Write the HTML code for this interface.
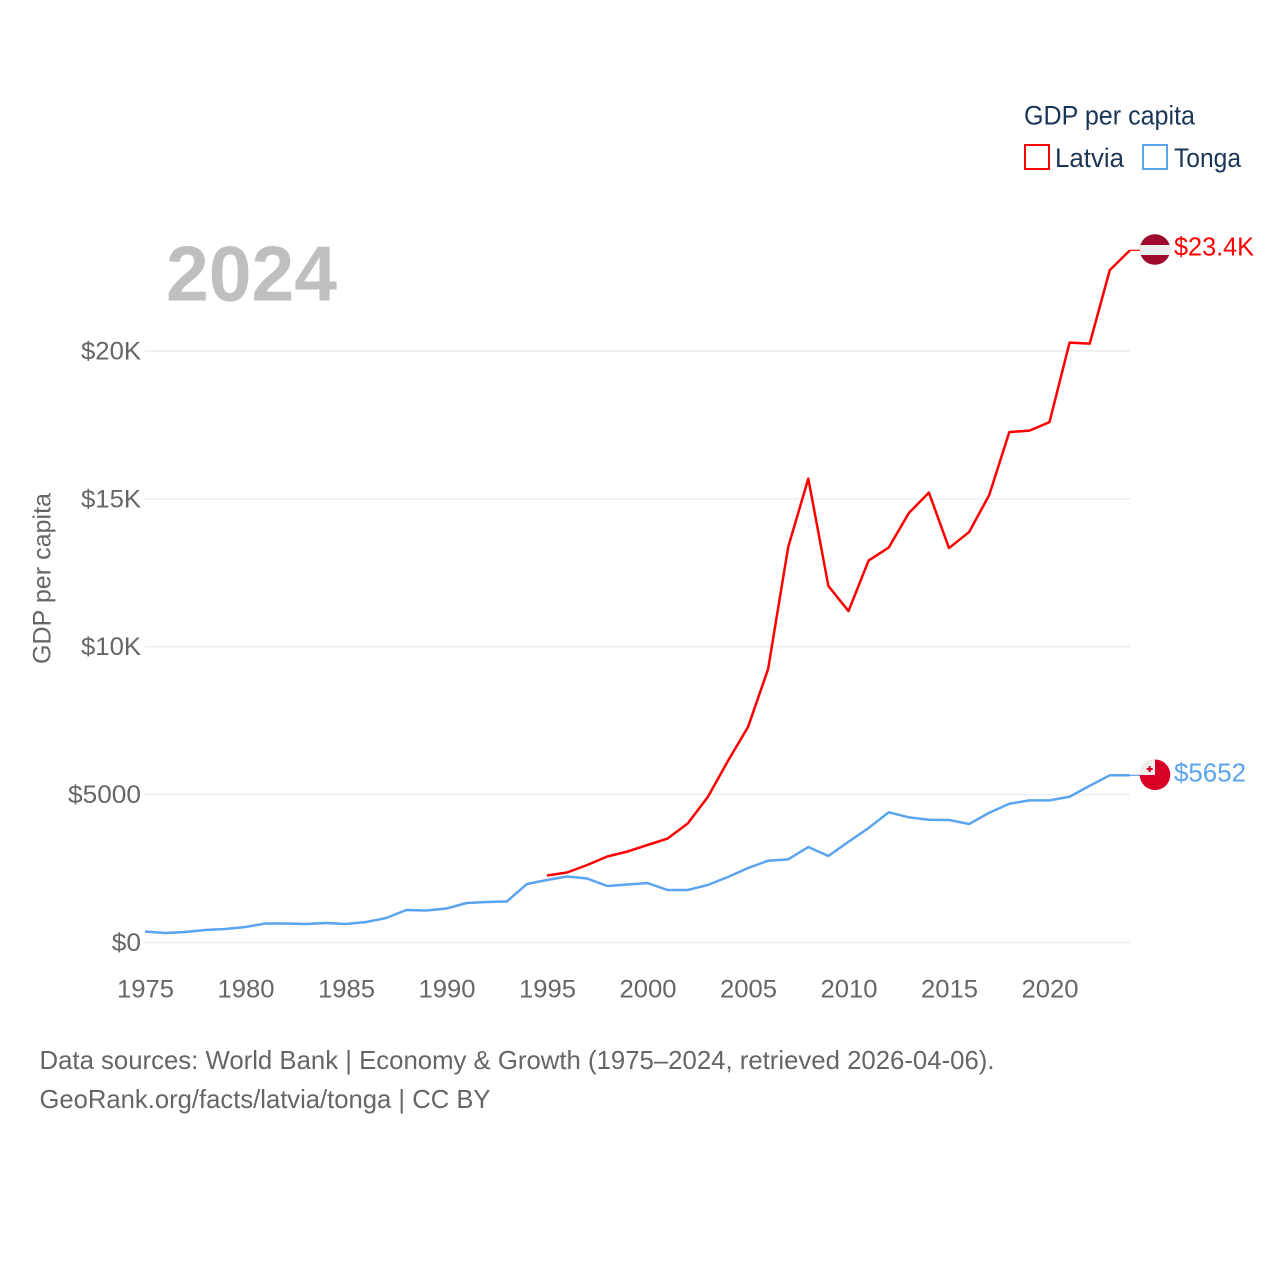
<!DOCTYPE html>
<html lang="en">
<head>
<meta charset="utf-8">
<title>GDP per capita: Latvia and Tonga</title>
<style>
html,body{margin:0;padding:0;background:#fff;width:1280px;height:1280px;overflow:hidden}
svg{display:block}
text{font-family:"Liberation Sans",sans-serif}
.tick{font-size:25px;fill:#666}
.foot{font-size:26px;fill:#666}
.leg{font-size:27px;fill:#1b3556}
</style>
</head>
<body>
<svg id="chart" xmlns="http://www.w3.org/2000/svg" width="1280" height="1280" viewBox="0 0 1280 1280">
  <defs>
    <clipPath id="clip-lv"><circle cx="1155" cy="249.5" r="15.3"/></clipPath>
    <clipPath id="clip-to"><circle cx="1155" cy="774.8" r="15.3"/></clipPath>
  </defs>
  <rect width="1280" height="1280" fill="#fff"/>
  <g id="grid"></g>
  <g id="yticks"></g>
  <g id="xticks"></g>
  <text x="166" y="300.5" font-size="78" font-weight="700" fill="#bfbfbf" textLength="171" lengthAdjust="spacingAndGlyphs">2024</text>
  <text class="tick" transform="translate(50.5,664) rotate(-90)" textLength="171" lengthAdjust="spacingAndGlyphs">GDP per capita</text>
  <g id="series"></g>

  <g clip-path="url(#clip-lv)">
    <rect x="1139" y="233" width="32" height="33" fill="#9e0a2b"/>
    <rect x="1139" y="245" width="32" height="10" fill="#eeeeee"/>
  </g>
  <g clip-path="url(#clip-to)">
    <rect x="1139" y="759" width="32" height="33" fill="#d80027"/>
    <rect x="1139" y="759" width="16" height="16" fill="#eeeeee"/>
    <rect x="1148.7" y="766" width="2" height="6" fill="#d80027"/>
    <rect x="1146.7" y="768" width="6" height="2" fill="#d80027"/>
  </g>
  <text x="1174" y="255.5" font-size="26" fill="#ff0000" textLength="80" lengthAdjust="spacingAndGlyphs">$23.4K</text>
  <text x="1174" y="781.5" font-size="26" fill="#5ba4ee" textLength="72" lengthAdjust="spacingAndGlyphs">$5652</text>

  <g>
    <text class="leg" x="1024" y="124.5" textLength="171" lengthAdjust="spacingAndGlyphs">GDP per capita</text>
    <rect x="1025" y="145" width="24" height="24" fill="#fff" stroke="#ff0000" stroke-width="2"/>
    <text class="leg" x="1055" y="167" textLength="69" lengthAdjust="spacingAndGlyphs">Latvia</text>
    <rect x="1143" y="145" width="24" height="24" fill="#fff" stroke="#5ba4ee" stroke-width="2"/>
    <text class="leg" x="1174" y="167" textLength="67" lengthAdjust="spacingAndGlyphs">Tonga</text>
  </g>

  <text class="foot" x="39.5" y="1069" textLength="955" lengthAdjust="spacingAndGlyphs">Data sources: World Bank | Economy &amp; Growth (1975–2024, retrieved 2026-04-06).</text>
  <text class="foot" x="39.5" y="1108" textLength="451" lengthAdjust="spacingAndGlyphs">GeoRank.org/facts/latvia/tonga | CC BY</text>
</svg>
<script>
const tongaStartYear = 1975;
const latviaStartYear = 1995;
const tongaValues = [372,321,355,423,456,524,642,642,625,659,625,693,828,1099,1082,1149,1335,1369,1386,1977,2113,2231,2163,1910,1960,2011,1775,1775,1944,2214,2518,2765,2812,3228,2924,3407,3870,4401,4232,4151,4141,4005,4387,4691,4806,4806,4928,5300,5652,5652];
const latviaValues = [2265,2366,2620,2907,3076,3296,3515,4022,4918,6135,7284,9244,13368,15683,12050,11205,12912,13351,14517,15210,13334,13875,15126,17255,17306,17593,20280,20246,22731,23400];
const yTickValues = [0,5000,10000,15000,20000];
const yTickLabels = ["$0","$5000","$10K","$15K","$20K"];
const xTickYears = [1975,1980,1985,1990,1995,2000,2005,2010,2015,2020];

const NS = "http://www.w3.org/2000/svg";
const xPos = function (year) { return 145 + (year - 1975) * 20.1; };
const yPos = function (value) { return 942.5 - value * 0.02958; };
const widthFor = function (label) { return label.length * (label.indexOf("K") >= 0 ? 15 : 14.6); };

const grid = document.getElementById("grid");
const yticks = document.getElementById("yticks");
const xticks = document.getElementById("xticks");
const series = document.getElementById("series");

yTickValues.forEach(function (v, i) {
  const line = document.createElementNS(NS, "line");
  line.setAttribute("x1", 145);
  line.setAttribute("x2", 1130);
  line.setAttribute("y1", yPos(v));
  line.setAttribute("y2", yPos(v));
  line.setAttribute("stroke", "#eeeeee");
  line.setAttribute("stroke-width", 1.5);
  
  
  grid.appendChild(line);

  const t = document.createElementNS(NS, "text");
  t.setAttribute("class", "tick");
  t.setAttribute("x", 141);
  t.setAttribute("y", yPos(v) + 8.5);
  t.setAttribute("text-anchor", "end");
  t.setAttribute("textLength", widthFor(yTickLabels[i]));
  t.setAttribute("lengthAdjust", "spacingAndGlyphs");
  t.textContent = yTickLabels[i];
  
  
  yticks.appendChild(t);
});

xTickYears.forEach(function (year) {
  const t = document.createElementNS(NS, "text");
  t.setAttribute("class", "tick");
  t.setAttribute("x", xPos(year) + 0.5);
  t.setAttribute("y", 997.5);
  t.setAttribute("text-anchor", "middle");
  t.setAttribute("textLength", 57);
  t.setAttribute("lengthAdjust", "spacingAndGlyphs");
  t.textContent = String(year);
  
  
  xticks.appendChild(t);
});

function pathFor(values, startYear) {
  const pts = values.map(function (v, i) {
    return xPos(startYear + i).toFixed(2) + "," + yPos(v).toFixed(2);
  });
  return "M" + pts.join("L");
}

function connectorFor(values, startYear) {
  const last = values[values.length - 1];
  const lastX = xPos(startYear + values.length - 1).toFixed(2);
  return "M" + lastX + "," + yPos(last).toFixed(2) + "L1140," + yPos(last).toFixed(2);
}

const tongaLine = document.createElementNS(NS, "path");
tongaLine.setAttribute("d", pathFor(tongaValues, tongaStartYear));
tongaLine.setAttribute("fill", "none");
tongaLine.setAttribute("stroke", "#5ba4ee");
tongaLine.setAttribute("stroke-width", 2.5);
tongaLine.setAttribute("stroke-linejoin", "round");


series.appendChild(tongaLine);

const tongaConnector = document.createElementNS(NS, "path");
tongaConnector.setAttribute("d", connectorFor(tongaValues, tongaStartYear));
tongaConnector.setAttribute("fill", "none");
tongaConnector.setAttribute("stroke", "#5ba4ee");
tongaConnector.setAttribute("stroke-width", 1.2);


series.appendChild(tongaConnector);

const latviaLine = document.createElementNS(NS, "path");
latviaLine.setAttribute("d", pathFor(latviaValues, latviaStartYear));
latviaLine.setAttribute("fill", "none");
latviaLine.setAttribute("stroke", "#ff0000");
latviaLine.setAttribute("stroke-width", 2.5);
latviaLine.setAttribute("stroke-linejoin", "round");


series.appendChild(latviaLine);

const latviaConnector = document.createElementNS(NS, "path");
latviaConnector.setAttribute("d", connectorFor(latviaValues, latviaStartYear));
latviaConnector.setAttribute("fill", "none");
latviaConnector.setAttribute("stroke", "#ff0000");
latviaConnector.setAttribute("stroke-width", 1.2);


series.appendChild(latviaConnector);
</script>
</body>
</html>
